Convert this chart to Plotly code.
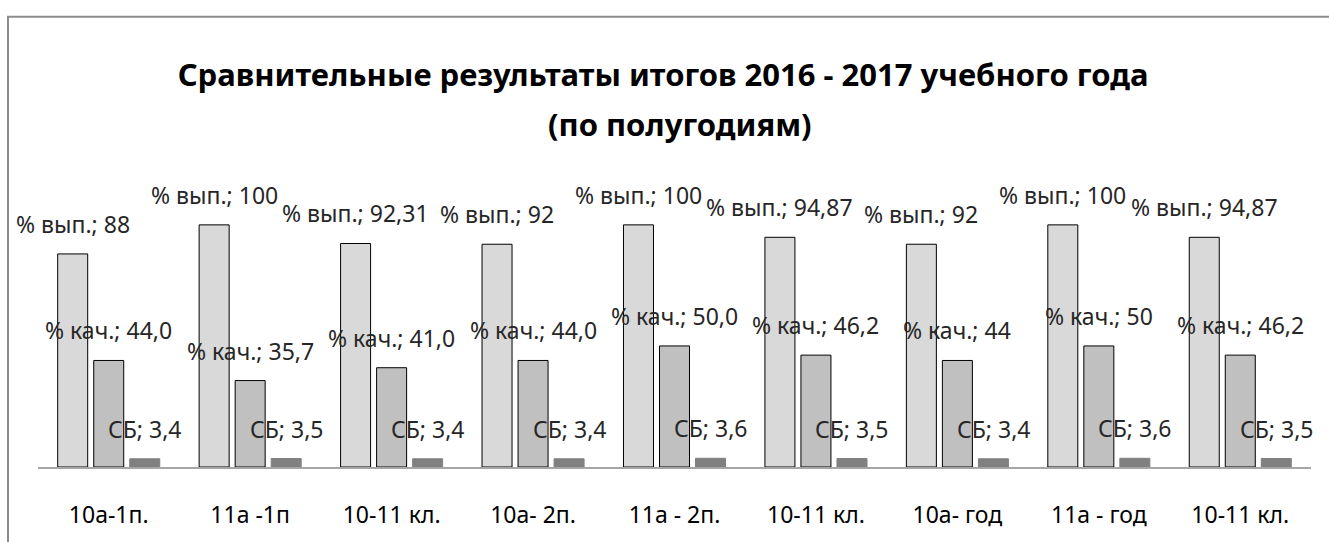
import plotly.graph_objects as go

categories = ["10а-1п.", "11а -1п", "10-11 кл.", "10а- 2п.", "11а - 2п.",
              "10-11 кл.", "10а- год", "11а - год", "10-11 кл."]
vyp = [88, 100, 92.31, 92, 100, 94.87, 92, 100, 94.87]
vyp_text = ["88", "100", "92,31", "92", "100", "94,87", "92", "100", "94,87"]
kach = [44.0, 35.7, 41.0, 44.0, 50.0, 46.2, 44, 50, 46.2]
kach_text = ["44,0", "35,7", "41,0", "44,0", "50,0", "46,2", "44", "50", "46,2"]
sb = [3.4, 3.5, 3.4, 3.4, 3.6, 3.5, 3.4, 3.6, 3.5]
sb_text = ["3,4", "3,5", "3,4", "3,4", "3,6", "3,5", "3,4", "3,6", "3,5"]
title_lines = ["Сравнительные результаты итогов 2016 - 2017 учебного года",
               "(по полугодиям)"]

x = list(range(len(categories)))
FONT = "Noto Sans, Open Sans, sans-serif"

series = [
    ("% вып.", vyp, vyp_text, "#d9d9d9", "#000000", -36),
    ("% кач.", kach, kach_text, "#c0c0c0", "#000000", 0),
    ("СБ", sb, sb_text, "#808080", "#808080", 36),
]

W, H = 1329, 542
l, r, t, b = 38, 18, 150, 66
pw, ph = W - l - r, H - t - b


def px_to_paper_x(px):
    return (px - l) / pw


def px_to_paper_y(py):
    return (H - b - py) / ph


fig = go.Figure()
annotations = []
for name, vals, txt, fill, line, shift in series:
    fig.add_trace(go.Bar(
        x=x, y=vals, name=name,
        marker=dict(color=fill, line=dict(color=line, width=1)),
        hoverinfo="skip",
    ))
    for xi, v, tt in zip(x, vals, txt):
        annotations.append(dict(
            x=xi, y=v, xref="x", yref="y",
            text=f"{name}; {tt}", showarrow=False,
            xshift=shift, yshift=30, yanchor="middle", xanchor="center",
            font=dict(family=FONT, size=23, color="#262626"),
        ))

# title second line (separate to control line spacing)
annotations.append(dict(
    x=px_to_paper_x(680), y=px_to_paper_y(123), xref="paper", yref="paper",
    text=title_lines[1], showarrow=False, xanchor="center", yanchor="middle",
    font=dict(family=FONT, size=31, color="#000000", weight="bold"),
))

shapes = [dict(type="rect", xref="paper", yref="paper",
               x0=px_to_paper_x(8), x1=px_to_paper_x(W + 20),
               y0=px_to_paper_y(H + 20), y1=px_to_paper_y(13),
               line=dict(color="#8c8c8c", width=2), fillcolor="rgba(0,0,0,0)",
               layer="below")]

ymax = ph / 2.49

fig.update_layout(
    width=W, height=H,
    margin=dict(l=l, r=r, t=t, b=b),
    paper_bgcolor="white", plot_bgcolor="white",
    barmode="group", bargap=0.236, bargroupgap=0.167,
    showlegend=False,
    title=dict(
        text=title_lines[0],
        x=663 / W, xanchor="center", xref="container",
        y=1 - 75 / H, yanchor="middle", yref="container",
        font=dict(family=FONT, size=31, color="#000000", weight="bold"),
    ),
    xaxis=dict(
        range=[-0.5, len(categories) - 0.5],
        tickvals=x, ticktext=categories,
        showline=True, linecolor="#a6a6a6", linewidth=2,
        showgrid=False, zeroline=False, ticks="",
        ticklabelstandoff=26,
        tickfont=dict(family=FONT, size=23, color="#000000"),
    ),
    yaxis=dict(range=[0, ymax], visible=False, showgrid=False, zeroline=False),
    annotations=annotations,
    shapes=shapes,
)

fig.write_html("out.html",
               config={"displayModeBar": False},
               post_script="document.body.style.margin='0';document.body.style.overflow='hidden';")
